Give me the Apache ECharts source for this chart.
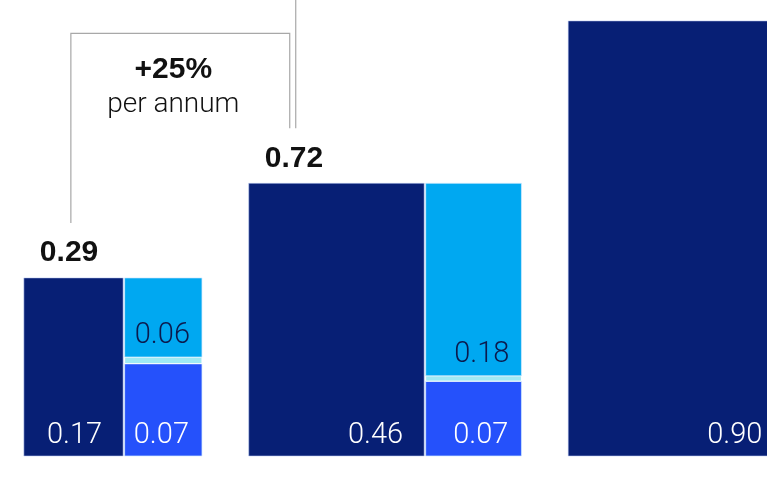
<!DOCTYPE html>
<html>
<head>
<meta charset="utf-8">
<script src="https://cdn.jsdelivr.net/npm/echarts@6/dist/echarts.min.js"></script>
<style>
html,body{margin:0;padding:0;background:#fff;}
#chart{width:767px;height:480px;}
</style>
</head>
<body>
<div id="chart"></div>
<script>
// ---- data ----
const categories = ['Stage 1', 'Stage 2', 'Stage 3'];
const totalValues = [0.29, 0.72, null];   // third total lies outside the visible crop
const darkValues  = [0.17, 0.46, 0.90];
const lightValues = [0.06, 0.18, 0.55];
const stripValues = [0.005, 0.005, 0.01];
const blueValues  = [0.07, 0.07, 0.36];
const growthLabels = ['+25%', '+25%'];
const growthSubLabel = 'per annum';

// ---- style ----
const C_DARK = '#071f75', C_BLUE = '#2551fb', C_LIGHT = '#00a8f1', C_STRIP = '#9fe9f4';
const START = 0.074, GAP = 0.145;
const LIGHT_FONT = 'Roboto, "Liberation Sans", sans-serif';
const BOLD_FONT = '"Liberation Sans", Arial, sans-serif';

const sumOf = i => darkValues[i] + lightValues[i] + stripValues[i] + blueValues[i];
function layout(i) {
  let x = START;
  for (let j = 0; j < i; j++) x += Math.sqrt(sumOf(j)) + GAP;
  return { x: x, side: Math.sqrt(sumOf(i)) };
}

function renderBlock(params, api) {
  const i = params.dataIndex;
  const L = layout(i), s = sumOf(i), side = L.side;
  const rest = s - darkValues[i];
  const dW = side * darkValues[i] / s;
  const blueH = side * blueValues[i] / rest;
  const stripH = side * stripValues[i] / rest;
  const bl = api.coord([L.x, 0]);
  const tr = api.coord([L.x + side, side]);
  const dr = api.coord([L.x + dW, 0]);
  const yBlue = api.coord([0, blueH])[1];
  const yStrip = api.coord([0, blueH + stripH])[1];
  const left = bl[0], bottom = bl[1], right = tr[0], top = tr[1], dRight = dr[0];
  const cx = dRight + 1.5;
  const edge = 'rgba(210,235,255,0.9)';
  const lab = (t, x, y, fill) => ({ type: 'text', style: { text: t, x: x, y: y,
      align: 'right', verticalAlign: 'middle', fill: fill,
      fontFamily: LIGHT_FONT, fontWeight: 300, fontSize: 29 } });
  const children = [
    { type: 'rect', shape: { x: left, y: top, width: dRight - left, height: bottom - top },
      style: { fill: C_DARK, stroke: 'rgba(190,205,245,0.7)', lineWidth: 0.8 } },
    { type: 'rect', shape: { x: cx, y: yBlue, width: right - cx, height: bottom - yBlue },
      style: { fill: C_BLUE, stroke: edge, lineWidth: 0.8 } },
    { type: 'rect', shape: { x: cx, y: yStrip, width: right - cx, height: yBlue - yStrip },
      style: { fill: C_STRIP, stroke: '#ffffff', lineWidth: 1 } },
    { type: 'rect', shape: { x: cx, y: top, width: right - cx, height: yStrip - top },
      style: { fill: C_LIGHT, stroke: edge, lineWidth: 0.8 } },
    lab(darkValues[i].toFixed(2), dRight - 21, bottom - 20, '#ffffff'),
    lab(blueValues[i].toFixed(2), right - 13, bottom - 20, '#ffffff'),
    lab(lightValues[i].toFixed(2), right - 12, yStrip - 21, '#0b1a4d')
  ];
  if (totalValues[i] != null) {
    children.push({ type: 'text', style: { text: totalValues[i].toFixed(2), x: left + 16, y: top - 25,
      align: 'left', verticalAlign: 'middle', fill: '#111111',
      fontFamily: BOLD_FONT, fontWeight: 'bold', fontSize: 30 } });
  }
  return { type: 'group', children: children };
}

function renderBracket(params, api) {
  const i = params.dataIndex;
  const A = layout(i), B = layout(i + 1);
  const aTop = api.coord([A.x, A.side]);
  const bTop = api.coord([B.x, B.side]);
  const xa = aTop[0] + 47, xb = bTop[0] + 41;
  const yh = bTop[1] - 150;
  const mid = (xa + xb) / 2 - 7;
  return { type: 'group', children: [
    { type: 'polyline', shape: { points: [[xa, aTop[1] - 55], [xa, yh], [xb, yh], [xb, bTop[1] - 55]] },
      style: { stroke: '#a8a8a8', lineWidth: 1.2, fill: null } },
    { type: 'text', style: { text: growthLabels[i], x: mid, y: yh + 36, align: 'center', verticalAlign: 'middle',
      fill: '#111111', fontFamily: BOLD_FONT, fontWeight: 'bold', fontSize: 30 } },
    { type: 'text', style: { text: growthSubLabel, x: mid, y: yh + 72, align: 'center', verticalAlign: 'middle',
      fill: '#111111', fontFamily: LIGHT_FONT, fontWeight: 300, fontSize: 28 } }
  ] };
}

const chart = echarts.init(document.getElementById('chart'), null, { renderer: 'canvas' });
chart.setOption({
  animation: false,
  grid: { left: 0, right: 0, top: 0, bottom: 24 },
  xAxis: { type: 'value', min: 0, max: 767 / 322.5, show: false },
  yAxis: { type: 'value', min: 0, max: 456 / 322.5, show: false },
  series: [
    { type: 'custom', clip: false, renderItem: renderBlock,
      data: categories.map((c, i) => [i, darkValues[i]]) },
    { type: 'custom', clip: false, renderItem: renderBracket,
      data: growthLabels.map((g, i) => [i, i + 1]) }
  ]
});
</script>
</body>
</html>
